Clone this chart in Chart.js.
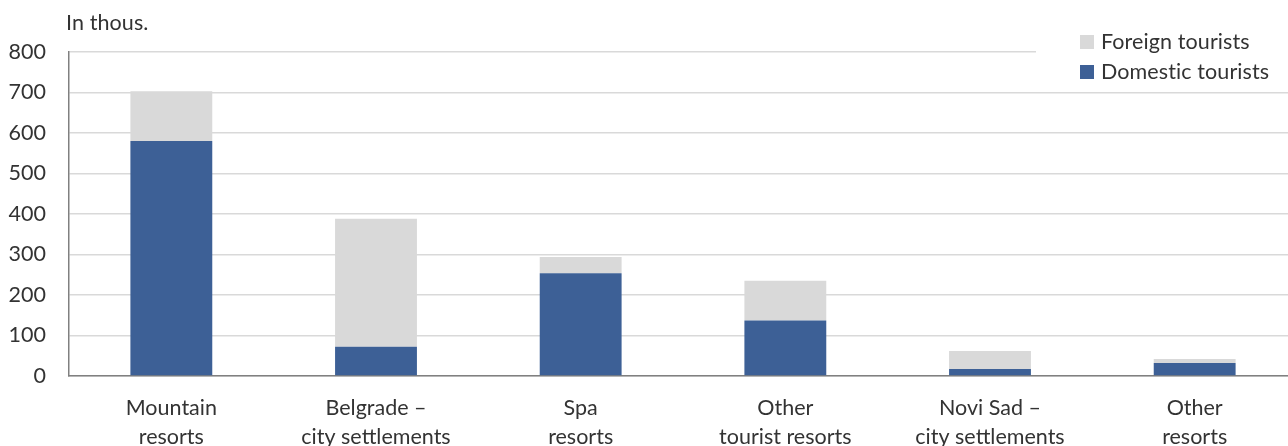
<!DOCTYPE html>
<html>
<head>
<meta charset="utf-8">
<script src="https://cdn.jsdelivr.net/npm/chart.js@4.4.1/dist/chart.umd.min.js"></script>
<style>
  html, body { margin: 0; padding: 0; background: #fff; overflow: hidden; }
  #wrap { width: 1300px; height: 446px; }
</style>
</head>
<body>
<div id="wrap"><canvas id="c" width="1300" height="446"></canvas></div>
<script>
// Overnight stays by type of tourist place, in thousands
const categories = [
  ['Mountain', 'resorts'],
  ['Belgrade \u2013', 'city settlements'],
  ['Spa', 'resorts'],
  ['Other', 'tourist resorts'],
  ['Novi Sad \u2013', 'city settlements'],
  ['Other', 'resorts']
];
const domesticTourists = [580, 72, 254, 137, 17, 32];
const foreignTourists  = [123, 316, 40, 98, 45, 10];
const yTicks = [0, 100, 200, 300, 400, 500, 600, 700, 800];

const FONT = 'Lato, "Open Sans", sans-serif';
const FONT_SIZE = 21.5;
const TEXT = '#333333';
const BLUE = '#3d6096';
const GREY = '#d9d9d9';

// Title and legend drawn on top of the plot
const overlay = {
  id: 'overlay',
  afterDraw(chart) {
    const ctx = chart.ctx;
    ctx.save();
    ctx.font = FONT_SIZE + 'px ' + FONT;
    if ('letterSpacing' in ctx) ctx.letterSpacing = '0.1px';
    ctx.fillStyle = TEXT;
    ctx.textBaseline = 'middle';
    ctx.textAlign = 'left';
    ctx.fillText('In thous.', 66, 23);

    ctx.fillStyle = '#ffffff';
    ctx.fillRect(1036, 28, 264, 60);

    const items = [...chart.data.datasets].reverse();
    items.forEach((ds, i) => {
      const y = 42 + i * 30;
      ctx.fillStyle = ds.backgroundColor;
      ctx.fillRect(1080, y - 7, 14, 14);
      ctx.fillStyle = TEXT;
      ctx.fillText(ds.label, 1101, y);
    });
    ctx.restore();
  }
};

new Chart(document.getElementById('c'), {
  type: 'bar',
  data: {
    labels: categories,
    datasets: [
      { label: 'Domestic tourists', data: domesticTourists, backgroundColor: BLUE },
      { label: 'Foreign tourists', data: foreignTourists, backgroundColor: GREY }
    ]
  },
  options: {
    responsive: false,
    animation: false,
    devicePixelRatio: 1,
    layout: { padding: { top: 52, right: 3, bottom: 0, left: 0 } },
    datasets: { bar: { categoryPercentage: 1.0, barPercentage: 0.4 } },
    plugins: { legend: { display: false }, tooltip: { enabled: false } },
    scales: {
      x: {
        stacked: true,
        afterFit(s) { s.height = 70; },
        grid: { display: false },
        border: { display: true, color: '#808080', width: 1.5 },
        ticks: { color: TEXT, font: { family: FONT, size: FONT_SIZE, lineHeight: 1.35 }, padding: 10, maxRotation: 0, autoSkip: false }
      },
      y: {
        stacked: true,
        min: 0,
        max: 800,
        afterFit(s) { s.width = 69; },
        afterBuildTicks(s) { s.ticks = yTicks.map(v => ({ value: v })); },
        grid: { color: GREY, lineWidth: 1.5, drawTicks: false },
        border: { display: true, color: '#808080', width: 1.5 },
        ticks: { color: TEXT, font: { family: FONT, size: FONT_SIZE }, padding: 23 }
      }
    }
  },
  plugins: [overlay]
});
</script>
</body>
</html>
